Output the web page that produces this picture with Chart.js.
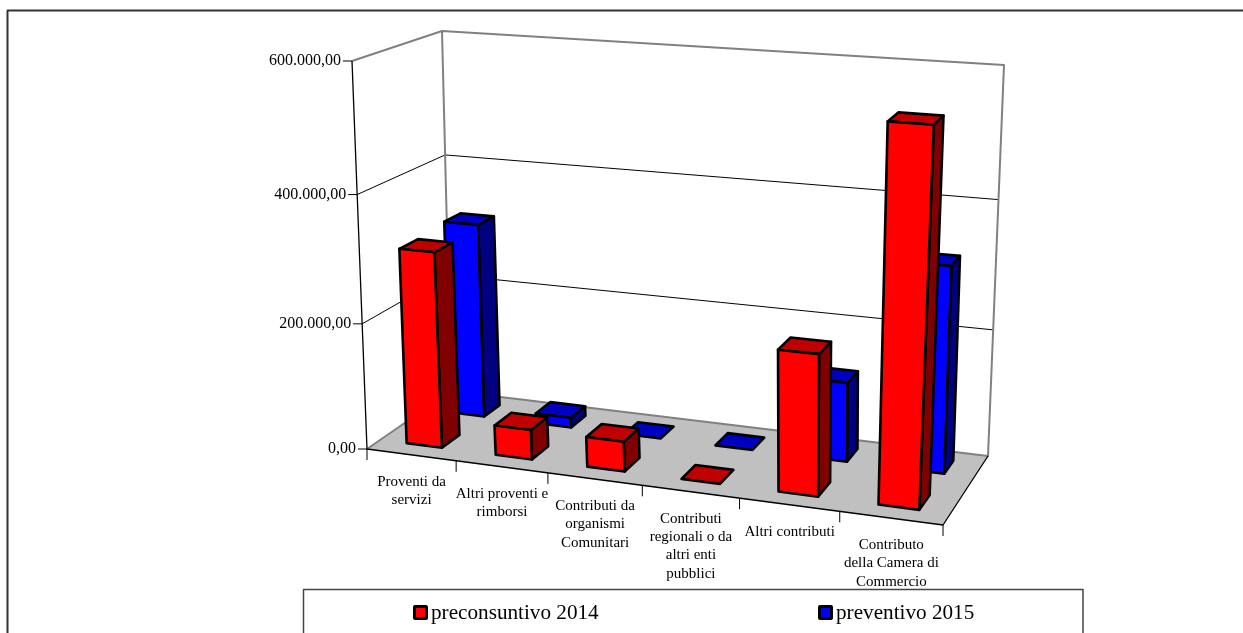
<!DOCTYPE html>
<html>
<head>
<meta charset="utf-8">
<title>Proventi</title>
<style>
  body { margin: 0; background: #fff; }
  #chart { display: block; }
</style>
<script src="https://cdn.jsdelivr.net/npm/chart.js@4"></script>
</head>
<body>
<canvas id="chart" width="1243" height="633"></canvas>
<script>
const categories = [
  ["Proventi da", "servizi"],
  ["Altri proventi e", "rimborsi"],
  ["Contributi da", "organismi", "Comunitari"],
  ["Contributi", "regionali o da", "altri enti", "pubblici"],
  ["Altri contributi"],
  ["Contributo", "della Camera di", "Commercio"]
];
const preconsuntivo2014 = [310000, 47000, 47000, 0, 216000, 560000];
const preventivo2015 = [316000, 16000, 0, 0, 125000, 320000];
const maxValue = 600000;
const tickStep = 200000;

const serif = "'Liberation Serif', serif";
const euro = new Intl.NumberFormat("it-IT", { minimumFractionDigits: 2, maximumFractionDigits: 2 });

// corners of the box: floor and ceiling, front-left, front-right, back-right, back-left
const floorCorners = [[367, 449], [943, 525], [988, 456], [451, 391]];
const ceilCorners = [[352, 61], [964, 105], [1004, 65], [442, 31]];
const rowDepth = [[0.15, 0.36], [0.67, 0.87]];

function quadMap(q) {
  const [[x0, y0], [x1, y1], [x2, y2], [x3, y3]] = q;
  const dx1 = x1 - x2, dx2 = x3 - x2, sx = x0 - x1 + x2 - x3;
  const dy1 = y1 - y2, dy2 = y3 - y2, sy = y0 - y1 + y2 - y3;
  const den = dx1 * dy2 - dx2 * dy1;
  const g = (sx * dy2 - dx2 * sy) / den;
  const h = (dx1 * sy - sx * dy1) / den;
  const a = x1 - x0 + g * x1, b = x3 - x0 + h * x3;
  const d = y1 - y0 + g * y1, e = y3 - y0 + h * y3;
  return (u, w) => {
    const t = g * u + h * w + 1;
    return [(a * u + b * w + x0) / t, (d * u + e * w + y0) / t];
  };
}
const floorAt = quadMap(floorCorners);
const ceilAt = quadMap(ceilCorners);

// u along the categories, w into the depth, v up the value axis (all 0..1)
function project(u, w, v) {
  const lo = floorAt(u, w), hi = ceilAt(u, w);
  const f = v / (v + 1.05 * (1 - v));
  return [lo[0] + (hi[0] - lo[0]) * f, lo[1] + (hi[1] - lo[1]) * f];
}

function poly(ctx, pts, fill, stroke, width) {
  ctx.beginPath();
  pts.forEach((p, i) => i ? ctx.lineTo(p[0], p[1]) : ctx.moveTo(p[0], p[1]));
  if (fill) {
    ctx.closePath();
    ctx.fillStyle = fill;
    ctx.fill();
  }
  if (stroke) {
    ctx.strokeStyle = stroke;
    ctx.lineWidth = width;
    ctx.lineJoin = "round";
    ctx.stroke();
  }
}

const shades = {
  "#ff0000": { side: "#800000", top: "#c00000" },
  "#0000ff": { side: "#000080", top: "#0000c0" }
};

const box3d = {
  id: "box3d",
  beforeDraw(chart) {
    const ctx = chart.ctx;
    ctx.save();
    // outer frame, open on the right and at the bottom
    poly(ctx, [[7.5, 633], [7.5, 10.5], [1243, 10.5]], null, "#333", 2);
    ctx.restore();
  },
  beforeDatasetsDraw(chart) {
    const ctx = chart.ctx;
    const yScale = chart.scales.y;
    ctx.save();
    poly(ctx, [project(0, 0, 0), project(1, 0, 0), project(1, 1, 0), project(0, 1, 0)], "#c0c0c0");

    // gridlines on the side and back walls
    yScale.ticks.forEach(t => {
      if (t.value === 0 || t.value === maxValue) return;
      const v = t.value / maxValue;
      poly(ctx, [project(0, 0, v), project(0, 1, v), project(1, 1, v)], null, "#000", 1);
    });

    // wall edges
    poly(ctx, [project(0, 0, 1), project(0, 1, 1), project(1, 1, 1), project(1, 1, 0), project(0, 1, 0), project(0, 0, 0)], null, "#808080", 2);
    poly(ctx, [project(0, 1, 1), project(0, 1, 0)], null, "#808080", 2);

    // front axes
    poly(ctx, [project(0, 0, 1), project(0, 0, 0), project(1, 0, 0), project(1, 1, 0)], null, "#000", 1.3);
    ctx.restore();
  },
  beforeDatasetDraw(chart, args) {
    const ctx = chart.ctx;
    const area = chart.chartArea;
    const [w0, w1] = rowDepth[args.index];
    const colour = chart.data.datasets[args.index].backgroundColor;
    ctx.save();
    [...args.meta.data].reverse().forEach(el => {
      const u0 = (el.x - el.width / 2 - area.left) / area.width;
      const u1 = (el.x + el.width / 2 - area.left) / area.width;
      const v = (area.bottom - el.y) / area.height;
      const top = [project(u0, w0, v), project(u1, w0, v), project(u1, w1, v), project(u0, w1, v)];
      if (v > 0) {
        const right = [project(u1, w0, 0), project(u1, w1, 0), project(u1, w1, v), project(u1, w0, v)];
        const front = [project(u0, w0, 0), project(u1, w0, 0), project(u1, w0, v), project(u0, w0, v)];
        poly(ctx, right, shades[colour].side, "#000", 2.6);
        poly(ctx, top, shades[colour].top, "#000", 2.6);
        poly(ctx, front, colour, "#000", 2.6);
      } else {
        poly(ctx, top, shades[colour].top, "#000", 2.6);
      }
    });
    ctx.restore();
    return false;
  },
  afterDraw(chart) {
    const ctx = chart.ctx;
    const { x: xScale, y: yScale } = chart.scales;
    ctx.save();
    ctx.fillStyle = "#000";

    // value axis
    ctx.font = "16px " + serif;
    ctx.textAlign = "right";
    ctx.textBaseline = "middle";
    yScale.ticks.forEach(t => {
      const p = project(0, 0, t.value / maxValue);
      poly(ctx, [[p[0] - 9, p[1]], p], null, "#000", 1);
      ctx.fillStyle = "#000";
      ctx.fillText(t.label, p[0] - 11, p[1]);
    });

    // category ticks and wrapped labels
    for (let i = 0; i <= categories.length; i++) {
      const p = project(i / categories.length, 0, 0);
      poly(ctx, [p, [p[0], p[1] + 11]], null, "#000", 1);
    }
    ctx.font = "15px " + serif;
    ctx.textAlign = "center";
    ctx.fillStyle = "#000";
    xScale.ticks.forEach((t, i) => {
      const a = project(i / categories.length, 0, 0);
      const b = project((i + 1) / categories.length, 0, 0);
      const x = (a[0] + b[0]) / 2, y = (a[1] + b[1]) / 2;
      [].concat(t.label).forEach((line, n) => ctx.fillText(line, x, y + 27 + n * 18.3));
    });

    // legend panel
    poly(ctx, [[303.5, 633], [303.5, 589.5], [1083, 589.5], [1083, 633]], null, "#444", 1.5);
    ctx.font = "21.2px " + serif;
    ctx.textAlign = "left";
    const legendX = [413, 818];
    chart.data.datasets.forEach((ds, i) => {
      ctx.fillStyle = "#000";
      ctx.beginPath();
      ctx.roundRect(legendX[i], 605, 15, 15, 2);
      ctx.fill();
      ctx.fillStyle = ds.backgroundColor;
      ctx.fillRect(legendX[i] + 3, 608, 9, 9);
      ctx.fillStyle = "#000";
      ctx.fillText(ds.label, legendX[i] + 18, 613);
    });
    ctx.restore();
  }
};

new Chart(document.getElementById("chart"), {
  type: "bar",
  data: {
    labels: categories,
    datasets: [
      { label: "preconsuntivo 2014", data: preconsuntivo2014, backgroundColor: "#ff0000" },
      { label: "preventivo 2015", data: preventivo2015, backgroundColor: "#0000ff" }
    ]
  },
  options: {
    responsive: false,
    animation: false,
    grouped: false,
    barPercentage: 0.4,
    categoryPercentage: 1,
    plugins: { legend: { display: false }, tooltip: { enabled: false } },
    scales: {
      x: { display: false, ticks: { autoSkip: false } },
      y: {
        display: false,
        min: 0,
        max: maxValue,
        ticks: { stepSize: tickStep, callback: v => euro.format(v) }
      }
    }
  },
  plugins: [box3d]
});
</script>
</body>
</html>
